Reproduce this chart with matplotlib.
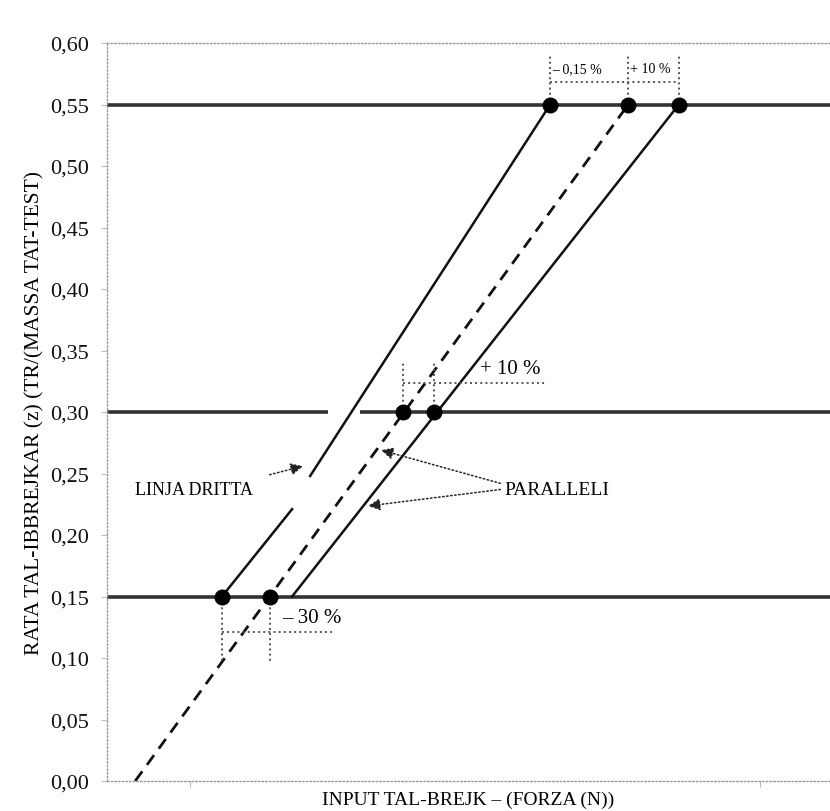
import matplotlib.pyplot as plt
import numpy as np

plt.rcParams['font.family'] = ['Liberation Serif', 'DejaVu Serif']

# line end points (force in arbitrary units, rate z)
dash_x = [3.9, 72.1]
dash_y = [0.0, 0.55]
left_lo_x = [15.9, 25.6]
left_lo_y = [0.15, 0.221]
left_hi_x = [28.1, 61.3]
left_hi_y = [0.248, 0.55]
right_x = [25.6, 79.1]
right_y = [0.15, 0.55]

# dots
dot_x = [61.3, 72.1, 79.1, 40.9, 45.2, 15.9, 22.5]
dot_y = [0.55, 0.55, 0.55, 0.30, 0.30, 0.15, 0.15]

levels = [0.15, 0.30, 0.55]
yticks = np.arange(0, 0.61, 0.05)
ytick_labels = ['%.2f' % v for v in yticks]
ytick_labels = [s.replace('.', ',') for s in ytick_labels]

fig = plt.figure(figsize=(8.3, 8.12), dpi=100)
ax = fig.add_axes([107 / 830, 30 / 812, 723 / 830, 738 / 812])
ax.set_xlim(0, 100)
ax.set_ylim(0, 0.60)

for s in ['left', 'top', 'bottom']:
    ax.spines[s].set_linestyle(':')
    ax.spines[s].set_color('#999999')
    ax.spines[s].set_linewidth(1)
ax.spines['right'].set_visible(False)

ax.set_yticks(yticks)
ax.set_yticklabels(ytick_labels)
ax.set_xticks([11.5, 90.3])
ax.set_xticklabels(['', ''])
ax.tick_params(axis='both', colors='#bbbbbb', length=4, width=0.8, labelsize=16, labelcolor='#111111', pad=9)

# horizontal reference levels
ax.axhline(levels[0], color='#333333', lw=2.6, zorder=2)
ax.axhline(levels[2], color='#333333', lw=2.6, zorder=2)
ax.hlines(levels[1], 0, 30.6, color='#333333', lw=2.6, zorder=2)
ax.hlines(levels[1], 35.0, 100, color='#333333', lw=2.6, zorder=2)

# sloped lines
ax.plot(dash_x, dash_y, color='#111111', lw=2, dashes=(4.3, 2.9), zorder=3)
ax.plot(left_lo_x, left_lo_y, color='#111111', lw=1.8, zorder=3)
ax.plot(left_hi_x, left_hi_y, color='#111111', lw=1.8, zorder=3)
ax.plot(right_x, right_y, color='#111111', lw=1.8, zorder=3)

ax.plot(dot_x, dot_y, 'o', color='#000000', ms=10.5, zorder=4)

dim = dict(color='#555555', lw=1.4, ls=':', zorder=3)

# top dimension
for x in [61.3, 72.1, 79.1]:
    ax.plot([x, x], [0.55, 0.591], **dim)
ax.plot([61.3, 79.1], [0.568, 0.568], **dim)
ax.text(61.5, 0.579, '– 0,15 %', fontsize=10, va='center', ha='left')
ax.text(72.4, 0.579, '+ 10 %', fontsize=10, va='center', ha='left')

# middle dimension
for x in [40.9, 45.2]:
    ax.plot([x, x], [0.30, 0.341], **dim)
ax.plot([40.9, 60.6], [0.3236, 0.3236], **dim)
ax.text(51.6, 0.335, '+ 10 %', fontsize=15, va='center', ha='left')

# bottom dimension
ax.plot([15.9, 15.9], [0.15, 0.098], **dim)
ax.plot([22.5, 22.5], [0.15, 0.097], **dim)
ax.plot([15.9, 31.5], [0.121, 0.121], **dim)
ax.text(24.2, 0.133, '– 30 %', fontsize=15, va='center', ha='left')

# labels with arrows
arr = dict(arrowstyle='-|>', ls=':', color='#222222', lw=1.1, mutation_scale=18, shrinkA=0, shrinkB=0)
ax.annotate('', xy=(27.1, 0.256), xytext=(22.5, 0.249), arrowprops=arr)
ax.text(3.9, 0.237, 'LINJA DRITTA', fontsize=13, va='center', ha='left')
ax.annotate('', xy=(37.9, 0.269), xytext=(54.4, 0.242), arrowprops=arr)
ax.annotate('', xy=(36.1, 0.2236), xytext=(54.4, 0.237), arrowprops=arr)
ax.text(55.0, 0.237, 'PARALLELI', fontsize=14, va='center', ha='left')

fig.text(468 / 830, 1 - 800 / 812, 'INPUT TAL-BREJK – (FORZA (N))', fontsize=14, ha='center', va='center')
ax.set_ylabel('RATA TAL-IBBREJKAR (z) (TR/(MASSA TAT-TEST)', fontsize=15.5, labelpad=4)

fig.savefig('out.png', dpi=100)
